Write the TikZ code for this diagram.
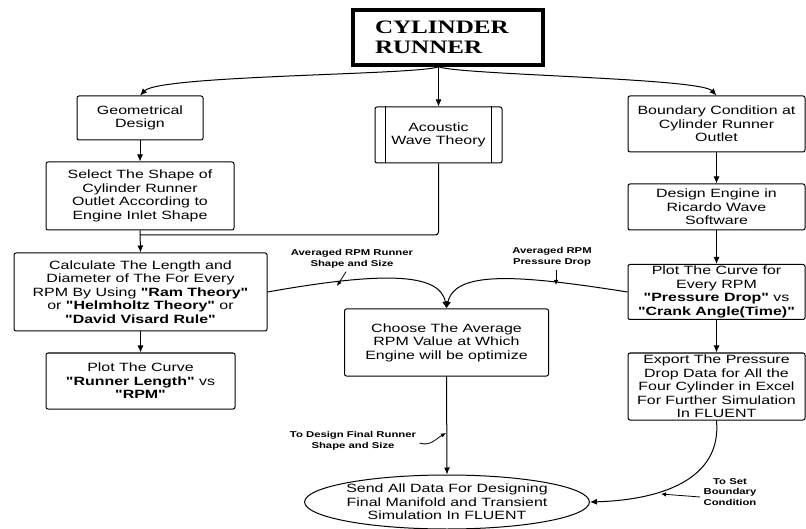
\documentclass[tikz,border=0pt]{standalone}
\usepackage{fontspec}
\setsansfont[FakeStretch=1.33, Ligatures=TeXOff]{Liberation Sans}
\newfontfamily\titlefont[FakeStretch=1.32]{Liberation Serif}
\usetikzlibrary{arrows.meta, shapes.geometric}
\tikzset{
    >={Latex[length=7pt,width=6pt]}, % filled arrowheads
    every node/.style={font=\sffamily\fontsize{12}{13.5}\selectfont, align=center},
    flowbox/.style={draw, line width=1pt, rounded corners=2pt, inner sep=1pt},
    titlebox/.style={draw, line width=3.5pt, font=\titlefont\bfseries\fontsize{19}{20}\selectfont,
      align=left, text width=146pt, inner xsep=22pt},
    note/.style={font=\sffamily\bfseries\fontsize{8.5}{10.5}\selectfont},
    link/.style={->, line width=1pt},
    pointer/.style={-{Latex[length=5pt,width=4.5pt]}, line width=0.8pt},
}

\begin{document}
\begin{tikzpicture}[x=1pt, y=-1pt]
  \useasboundingbox (0,0) rectangle (806,529);

  \node[titlebox, minimum height=55] (title) at (448,37.5) {CYLINDER\\RUNNER};

  % left column
  \node[flowbox, minimum width=126, minimum height=44] (geo) at (140,118) {Geometrical\\Design};
  \node[flowbox, minimum width=188, minimum height=68] (select) at (140,196)
    {Select The Shape of\\Cylinder Runner\\Outlet According to\\Engine Inlet Shape};
  \node[flowbox, minimum width=253, minimum height=78] (calc) at (140.5,292)
    {Calculate The Length and\\Diameter of The For Every\\RPM By Using \textbf{"Ram Theory"}\\or \textbf{"Helmholtz Theory"} or\\\textbf{"David Visard Rule"}};
  \node[flowbox, minimum width=189, minimum height=56] (plotrl) at (140.5,381)
    {Plot The Curve\\\textbf{"Runner Length"} vs\\\textbf{"RPM"}};

  % middle column
  \node[flowbox, minimum width=127, minimum height=56] (acoustic) at (438.5,135) {Acoustic\\Wave Theory};
  \draw[line width=1pt] ([xshift=11pt]acoustic.north west) -- ([xshift=11pt]acoustic.south west);
  \draw[line width=1pt] ([xshift=-11pt]acoustic.north east) -- ([xshift=-11pt]acoustic.south east);
  \node[flowbox, minimum width=204, minimum height=67] (choose) at (446.5,342.5)
    {Choose The Average\\RPM Value at Which\\Engine will be optimize};
  \node[draw, ellipse, line width=1pt, inner sep=0pt, minimum width=272, minimum height=54] (send) at (447,502)
    {Send All Data For Designing\\Final Manifold and Transient\\Simulation In FLUENT};

  % right column
  \node[flowbox, minimum width=177, minimum height=56] (bound) at (716.5,124)
    {Boundary Condition at\\Cylinder Runner\\Outlet};
  \node[flowbox, minimum width=177, minimum height=46] (ricardo) at (716.5,207)
    {Design Engine in\\Ricardo Wave\\Software};
  \node[flowbox, minimum width=177, minimum height=55] (plotpd) at (716.5,292)
    {Plot The Curve for\\Every RPM\\\textbf{"Pressure Drop"} vs\\\textbf{"Crank Angle(Time)"}};
  \node[flowbox, minimum width=177, minimum height=67] (export) at (716.5,386.5)
    {Export The Pressure\\Drop Data for All the\\Four Cylinder in Excel\\For Further Simulation\\In FLUENT};

  % connectors from the title
  \coordinate (split) at (title.south -| acoustic.north);
  \draw[link] (split) .. controls (420,75) and (160,75) .. (geo.north);
  \draw[link] (split) -- (acoustic.north);
  \draw[link] (split) .. controls (460,75) and (700,78) .. (bound.north);

  \draw[link] (geo.south) -- (select.north);
  \draw[link] (select.south) -- (calc.north);
  \coordinate (join) at (140,235);
  \draw[line width=1pt, rounded corners=3pt] (acoustic.south) |- (join);
  \draw[link] (calc.south) -- (plotrl.north);

  \draw[link] (bound.south) -- (ricardo.north);
  \draw[link] (ricardo.south) -- (plotpd.north);
  \draw[link] (plotpd.south) -- (export.north);

  \draw[link] (calc.east) .. controls (380,272) and (440,272) .. (choose.north);
  \draw[link] (plotpd.west) .. controls (520,275) and (455,270) .. (choose.north);
  \draw[link] (choose.south) -- (send.north);
  \draw[link] (export.south) .. controls (722,480) and (660,500) .. (send.east);

  % notes
  \node[note] (avgrun) at (352,259) {Averaged RPM Runner\\Shape and Size};
  \coordinate (avgruntip) at (337,286);
  \draw[pointer] ([xshift=-6pt]avgrun.south) -- (avgruntip);

  \node[note] (avgpd) at (552,257) {Averaged RPM\\Pressure Drop};
  \coordinate (avgpdtip) at (556,285);
  \draw[pointer] ([xshift=4pt]avgpd.south) -- (avgpdtip);

  \node[note] (final) at (353,441) {To Design Final Runner\\Shape and Size};
  \coordinate (finaltip) at (446,433);
  \draw[pointer] ([yshift=-2pt]final.east) to[out=-20, in=210] (finaltip);

  \node[note] (bc) at (730,492) {To Set\\Boundary\\Condition};
  \coordinate (bctip) at (661,494);
  \draw[pointer] ([yshift=-5pt]bc.west) -- (bctip);
\end{tikzpicture}
\end{document}
